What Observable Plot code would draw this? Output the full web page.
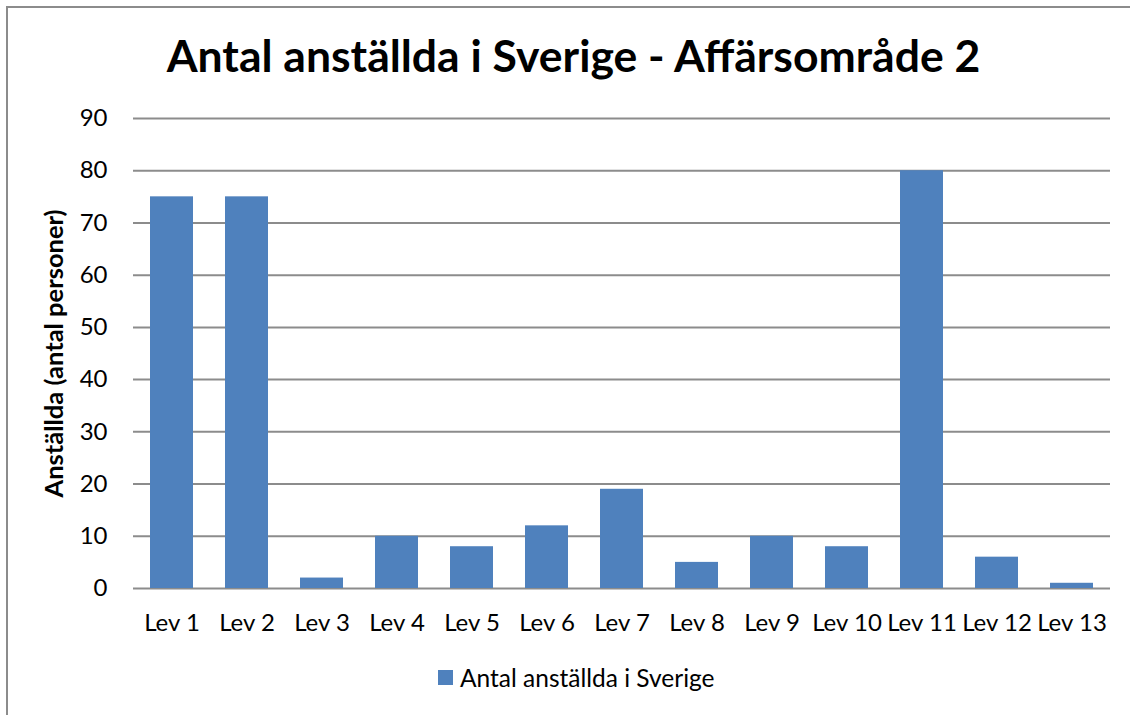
<!DOCTYPE html>
<html>
<head>
<meta charset="utf-8">
<script src="https://cdn.jsdelivr.net/npm/d3@7"></script>
<script src="https://cdn.jsdelivr.net/npm/@observablehq/plot@0.6"></script>
<style>
  html, body { margin: 0; padding: 0; background: #fff; }
  #wrap { position: relative; width: 1130px; height: 715px; overflow: hidden; font-family: Lato, "Open Sans", sans-serif; color: #000; }
  #frame { position: absolute; left: 6px; top: 6px; width: 1200px; height: 800px; border-left: 2px solid #8c8c8c; border-top: 2px solid #8c8c8c; }
  #title { position: absolute; left: 0; width: 1147px; top: 28px; text-align: center; font-weight: bold; font-size: 44.5px; white-space: nowrap; }
  #chart { position: absolute; left: 0; top: 100px; }
  #chart svg g[aria-label="y-axis label"] text { font-weight: bold !important; font-size: 25.5px !important; }
  #legend { position: absolute; left: 438px; top: 663px; font-size: 24.5px; white-space: nowrap; display: flex; align-items: center; }
  #legend .sw { display: inline-block; width: 15px; height: 15px; background: #4F81BD; margin-right: 7px; }
</style>
</head>
<body>
<div id="wrap">
  <div id="frame"></div>
  <div id="title">Antal anställda i Sverige - Affärsområde 2</div>
  <div id="chart"></div>
  <div id="legend"><span class="sw"></span><span>Antal anställda i Sverige</span></div>
</div>
<script>
const categories = ["Lev 1","Lev 2","Lev 3","Lev 4","Lev 5","Lev 6","Lev 7","Lev 8","Lev 9","Lev 10","Lev 11","Lev 12","Lev 13"];
const values = [75, 75, 2, 10, 8, 12, 19, 5, 10, 8, 80, 6, 1];
const yTicks = [0, 10, 20, 30, 40, 50, 60, 70, 80, 90];
const seriesName = "Antal anställda i Sverige";
const yLabel = "Anställda (antal personer)";

const data = categories.map((c, i) => ({lev: c, value: values[i]}));

const chart = Plot.plot({
  width: 1130,
  height: 560,
  marginLeft: 133,
  marginRight: 20,
  marginTop: 18,
  marginBottom: 72,
  style: {fontFamily: "Lato, 'Open Sans', sans-serif", fontSize: "24px", color: "#000", background: "transparent"},
  x: {domain: categories, paddingInner: 0.43, paddingOuter: 0.215, label: null},
  y: {domain: [0, 90], label: null},
  marks: [
    Plot.ruleY(yTicks, {stroke: "#8c8c8c", strokeWidth: 2}),
    Plot.barY(data, {x: "lev", y: "value", fill: "#4F81BD"}),
    Plot.axisX({tickSize: 0, tickPadding: 25, label: null, fill: "#000", fontSize: 24}),
    Plot.axisY({ticks: yTicks, tickSize: 0, tickPadding: 26, fill: "#000", fontSize: 24}),
    Plot.axisY({ticks: [], tickSize: 0, fill: "#000",
      label: yLabel, labelAnchor: "center", labelArrow: "none", labelOffset: 89})
  ]
});
document.getElementById("chart").appendChild(chart);
</script>
</body>
</html>
